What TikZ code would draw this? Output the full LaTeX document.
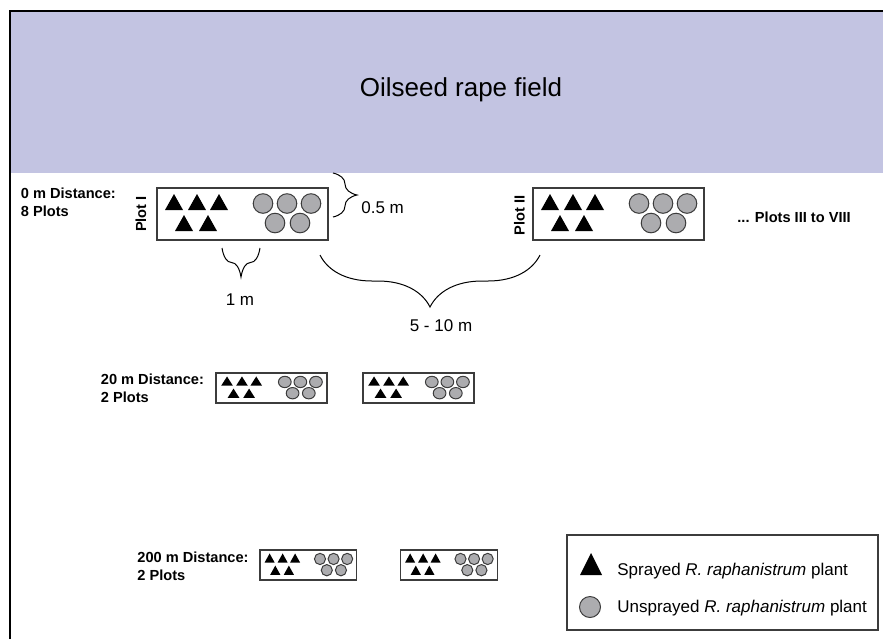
\documentclass[tikz,border=0pt]{standalone}
\usepackage{fontspec}
\setmainfont{Liberation Sans}
\usepackage{tikz}
\usetikzlibrary{decorations.pathreplacing}

\definecolor{fieldblue}{RGB}{195,196,226}
\definecolor{plantgray}{RGB}{172,172,175}
\definecolor{edgegray}{RGB}{60,60,60}

\tikzset{
  plotframe/.style={draw=edgegray, line width=0.7pt},
  sprayed/.style={fill=black},
  unsprayed/.style={draw=edgegray, fill=plantgray, line width=0.5pt},
  distlabel/.style={font=\bfseries\fontsize{7.3}{9.2}\selectfont, align=left, anchor=north west, inner sep=0pt},
  plotlabel/.style={font=\bfseries\fontsize{7.3}{9.2}\selectfont, rotate=90, inner sep=0pt},
  measure/.style={font=\fontsize{8.5}{10}\selectfont, inner sep=0pt},
  bracket/.style={decorate, decoration={brace, amplitude=#1}, line width=0.5pt},
}

\begin{document}
\begin{tikzpicture}[x={(0.5pt,0)}, y={(0,-0.5pt)}]
    \useasboundingbox (0,0) rectangle (883,639);
    \fill[fieldblue] (10,11) rectangle (883,172.5);
    \draw[line width=1pt] (9.5,639) -- (9.5,10.5) -- (883,10.5);
    \node[font=\fontsize{13}{15}\selectfont, anchor=base, inner sep=0pt] (field) at (461,96) {Oilseed rape field};

    \foreach \nm/\px/\py/\sx/\sy in {plotI/157/188/1/1, plotII/533/188/1/1,
        plotA/216/373/0.649/0.577, plotB/363/373/0.649/0.577,
        plotC/260/550/0.566/0.577, plotD/400.5/550/0.566/0.577}{
      \begin{scope}[shift={(\px,\py)}, xscale=\sx, yscale=\sy]
        \draw[plotframe] (0,0) coordinate (\nm) rectangle (171,52);
        \foreach \tx/\ty in {17/6, 40/6, 62/6, 27/27, 51/27}
          \fill[sprayed] (\tx-9,\ty+16) -- (\tx,\ty) -- (\tx+9,\ty+16) -- cycle;
        \foreach \cx/\cy in {106/15.5, 130/15.5, 154/15.5, 118/35, 143/35}
          \draw[unsprayed] (\cx,\cy) circle[radius=9.8];
      \end{scope}
    }

    \node[plotlabel] (labI) at (141,214) {Plot I};
    \node[plotlabel] (labII) at (519.5,215.5) {Plot II};
    \node[distlabel] (dist0) at (20.5,187.6) {0 m Distance:\\8 Plots};
    \node[distlabel] (dist20) at (100.5,373.1) {20 m Distance:\\2 Plots};
    \node[distlabel] (dist200) at (137,551.6) {200 m Distance:\\2 Plots};
    \node[font=\bfseries\fontsize{7.3}{9.2}\selectfont, anchor=base west, inner sep=0pt] (more) at (737,222) {... Plots III to VIII};

    \coordinate (hTop) at (333,173);
    \coordinate (hBot) at (333,217);
    \coordinate (oneR) at (260,248);
    \coordinate (oneL) at (222,248);
    \coordinate (gapR) at (540,255);
    \coordinate (gapL) at (320,255);
    \draw[bracket=12pt] (hTop) -- (hBot);
    \draw[bracket=14.5pt] (oneR) -- (oneL);
    \draw[bracket=26pt] (gapR) -- (gapL);
    \node[measure, anchor=base west] (halfm) at (361,213.3) {0.5 m};
    \node[measure, anchor=base] (onem) at (240,305) {1 m};
    \node[measure, anchor=base] (gapm) at (441,331.7) {5 - 10 m};

    \draw[draw=edgegray, line width=0.6pt] (567,535) coordinate (key) rectangle (878,630);
    \fill[sprayed] (580,575) -- (591,553) -- (602,575) -- cycle;
    \draw[unsprayed] (590,607) circle[radius=10.5];
    \node[measure, anchor=base west] (keyS) at (617,575.5) {Sprayed \textit{R. raphanistrum} plant};
    \node[measure, anchor=base west] (keyU) at (617,612) {Unsprayed \textit{R. raphanistrum} plant};
  \end{tikzpicture}
\end{document}
